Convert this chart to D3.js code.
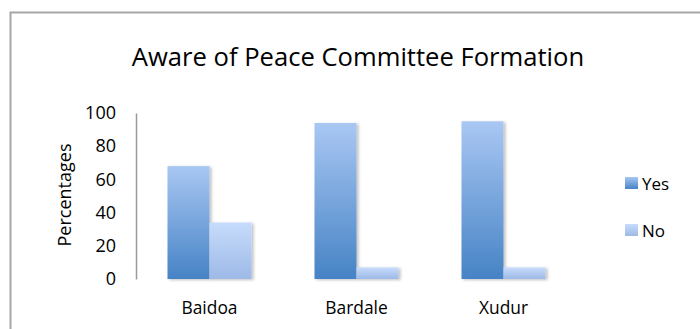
<!DOCTYPE html>
<html>
<head>
<meta charset="utf-8">
<script src="https://cdn.jsdelivr.net/npm/d3@7"></script>
<style>
  html, body { margin: 0; padding: 0; background: #fff; }
  svg { display: block; font-family: "Open Sans", "Liberation Sans", sans-serif; }
</style>
</head>
<body>
<svg id="chart" width="700" height="329"></svg>
<script>
// Survey results by town
const towns = ["Baidoa", "Bardale", "Xudur"];
const seriesNames = ["Yes", "No"];
const yesValues = [68, 94, 95];
const noValues = [34, 7, 7];
const yTicks = [0, 20, 40, 60, 80, 100];
const titleText = "Aware of Peace Committee Formation";
const yAxisTitle = "Percentages";

const values = { Yes: yesValues, No: noValues };

const svg = d3.select("#chart");
const defs = svg.append("defs");

// vertical gradients for each series
const grads = {
  Yes: [["0%", "#a9c7f3"], ["100%", "#4683c5"]],
  No: [["0%", "#c7dcfc"], ["100%", "#9db9e6"]]
};
Object.entries(grads).forEach(([k, stops]) => {
  const g = defs.append("linearGradient").attr("id", "grad-" + k)
    .attr("x1", 0).attr("y1", 0).attr("x2", 0).attr("y2", 1);
  stops.forEach(([o, c]) => g.append("stop").attr("offset", o).attr("stop-color", c));
});
const shadow = defs.append("filter").attr("id", "shadow")
  .attr("x", "-20%").attr("y", "-20%").attr("width", "150%").attr("height", "150%");
shadow.append("feDropShadow").attr("dx", 2).attr("dy", 1).attr("stdDeviation", 1.5)
  .attr("flood-color", "#000").attr("flood-opacity", 0.25);

// outer frame
svg.append("rect").attr("x", 10.5).attr("y", 12.5).attr("width", 700).attr("height", 330)
  .attr("fill", "none").attr("stroke", "#a6a6a6").attr("stroke-width", 2);

svg.append("text").attr("x", 358).attr("y", 66).attr("text-anchor", "middle")
  .attr("font-size", 25.6).attr("fill", "#000").text(titleText);

const x0 = d3.scaleBand().domain(towns).range([136, 577])
  .paddingInner(63 / 147).paddingOuter(31.5 / 147);
const x1 = d3.scaleBand().domain(seriesNames).range([0, x0.bandwidth()]);
const y = d3.scaleLinear().domain([0, 100]).range([279, 113]);

// bars
const groups = svg.append("g").selectAll("g").data(towns).join("g")
  .attr("transform", d => `translate(${x0(d)},0)`);
groups.selectAll("rect")
  .data((d, i) => seriesNames.map(s => ({ s, v: values[s][i] })))
  .join("rect")
  .attr("x", d => x1(d.s))
  .attr("y", d => y(d.v))
  .attr("width", x1.bandwidth())
  .attr("height", d => y(0) - y(d.v))
  .attr("fill", d => `url(#grad-${d.s})`)
  .attr("filter", "url(#shadow)");

// axes
const yAxis = svg.append("g").attr("transform", "translate(136,0)")
  .call(d3.axisLeft(y).tickValues(yTicks).tickSize(0).tickPadding(20));
yAxis.select(".domain").attr("stroke", "#9a9a9a").attr("stroke-width", 1.5);
yAxis.selectAll("text").attr("font-size", 18).attr("fill", "#000")
  .attr("font-family", "'Open Sans', sans-serif");

const xAxis = svg.append("g").attr("transform", "translate(0,279)")
  .call(d3.axisBottom(x0).tickSize(0).tickPadding(23));
xAxis.select(".domain").attr("stroke", "#9a9a9a").attr("stroke-width", 1.5)
  .attr("filter", "url(#shadow)");
xAxis.selectAll("text").attr("font-size", 17.4).attr("fill", "#000")
  .attr("font-family", "'Open Sans', sans-serif");

svg.append("text").attr("transform", "translate(71,195) rotate(-90)")
  .attr("text-anchor", "middle").attr("font-size", 18).attr("fill", "#000")
  .text(yAxisTitle);

// legend
const legend = svg.append("g").selectAll("g").data(seriesNames).join("g")
  .attr("transform", (d, i) => `translate(625,${177 + i * 47})`);
legend.append("rect").attr("width", 13).attr("height", 12)
  .attr("fill", d => `url(#grad-${d})`);
legend.append("text").attr("x", 17).attr("y", 7).attr("dy", "0.36em")
  .attr("font-size", 17).attr("fill", "#000").text(d => d);
</script>
</body>
</html>
